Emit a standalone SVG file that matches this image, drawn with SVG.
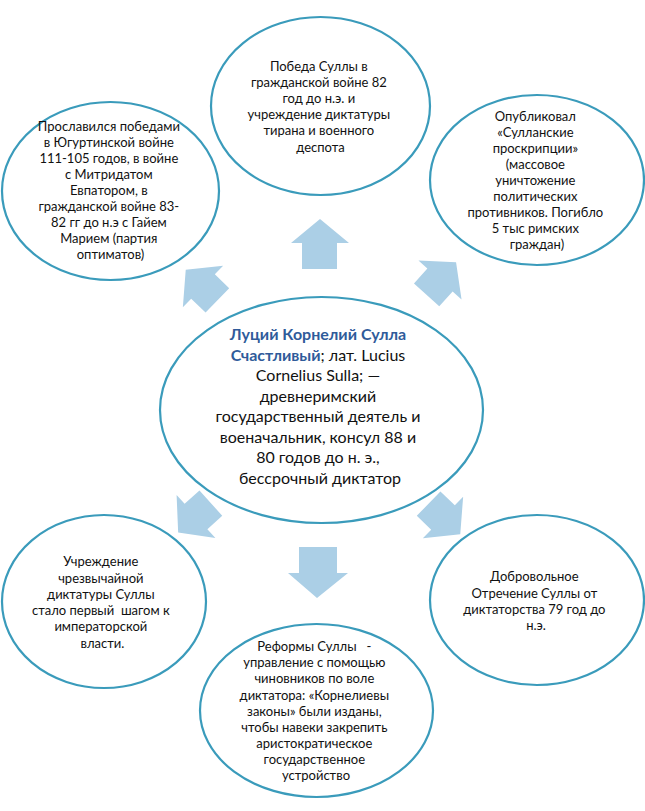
<svg xmlns="http://www.w3.org/2000/svg" width="645" height="811" viewBox="0 0 645 811">
<style>
.arrow{fill:#abcfe6;stroke:none}
.node{fill:#ffffff;stroke:#3a9bbb;stroke-width:2.2}
.t{font-family:Lato,"Liberation Sans",sans-serif;font-size:13px;fill:#111;text-anchor:middle}
.c{font-family:Lato,"Liberation Sans",sans-serif;font-size:16px;fill:#111;text-anchor:middle}
.b{font-weight:bold;fill:#2f5b9a}
</style>
<defs>
<polygon id="darr" points="0,-24 29,0 17,0 17,20 -17,20 -17,0 -29,0"/>
</defs>
<g id="connectors">
<polygon class="arrow" points="320,219 349,243 337,243 337,269 302,269 302,243 291,243"/>
<polygon class="arrow" points="299,547 337,547 337,573 348,573 317,598 288,573 299,573"/>
<use href="#darr" class="arrow" transform="translate(203,286.5) rotate(-46)"/>
<use href="#darr" class="arrow" transform="translate(440,280) rotate(42)"/>
<use href="#darr" class="arrow" transform="translate(196,516.5) rotate(-132)"/>
<use href="#darr" class="arrow" transform="translate(443,517.5) rotate(134)"/>
</g>
<g id="center">
<ellipse class="node" cx="321.5" cy="410" rx="161.5" ry="113"/>
<text class="c">
<tspan x="320" y="340" class="b">Луций Корнелий Сулла</tspan>
<tspan x="320" y="360.5"><tspan class="b">Счастливый</tspan>; лат. Lucius</tspan>
<tspan x="320" y="381">Cornelius Sulla; —</tspan>
<tspan x="320" y="401.5">древнеримский</tspan>
<tspan x="320" y="422">государственный деятель и</tspan>
<tspan x="320" y="442.5">военачальник, консул 88 и</tspan>
<tspan x="320" y="463">80 годов до н. э.,</tspan>
<tspan x="320" y="483.5">бессрочный диктатор</tspan>
</text>
</g>
<g id="top">
<ellipse class="node" cx="320.5" cy="106" rx="109.5" ry="89"/>
<text class="t">
<tspan x="320.5" y="70.5">Победа Суллы в</tspan>
<tspan x="320.5" y="86.7">гражданской войне 82</tspan>
<tspan x="320.5" y="102.9">год до н.э. и</tspan>
<tspan x="320.5" y="119.1">учреждение диктатуры</tspan>
<tspan x="320.5" y="135.3">тирана и военного</tspan>
<tspan x="320.5" y="151.5">деспота</tspan>
</text>
</g>
<g id="top-left">
<ellipse class="node" cx="110.5" cy="191" rx="108.5" ry="89"/>
<text class="t">
<tspan x="110.5" y="130.5">Прославился победами</tspan>
<tspan x="110.5" y="146.5">в Югуртинской войне</tspan>
<tspan x="110.5" y="162.5">111-105 годов, в войне</tspan>
<tspan x="110.5" y="178.5">с Митридатом</tspan>
<tspan x="110.5" y="194.5">Евпатором, в</tspan>
<tspan x="110.5" y="210.5">гражданской войне 83-</tspan>
<tspan x="110.5" y="226.5">82 гг до н.э с Гайем</tspan>
<tspan x="110.5" y="242.5">Марием (партия</tspan>
<tspan x="110.5" y="258.5">оптиматов)</tspan>
</text>
</g>
<g id="top-right">
<ellipse class="node" cx="537" cy="180" rx="107" ry="85"/>
<text class="t">
<tspan x="537" y="120.5">Опубликовал</tspan>
<tspan x="537" y="136.5">«Сулланские</tspan>
<tspan x="537" y="152.5">проскрипции»</tspan>
<tspan x="537" y="168.5">(массовое</tspan>
<tspan x="537" y="184.5">уничтожение</tspan>
<tspan x="537" y="200.5">политических</tspan>
<tspan x="537" y="216.5">противников. Погибло</tspan>
<tspan x="537" y="232.5">5 тыс римских</tspan>
<tspan x="537" y="248.5">граждан)</tspan>
</text>
</g>
<g id="bottom-left">
<ellipse class="node" cx="104" cy="601.5" rx="102" ry="86.5"/>
<text class="t">
<tspan x="102.5" y="566.2">Учреждение</tspan>
<tspan x="102.5" y="582.5">чрезвычайной</tspan>
<tspan x="102.5" y="598.8">диктатуры Суллы</tspan>
<tspan x="102.5" y="615.1">стало первый&#160; шагом к</tspan>
<tspan x="102.5" y="631.4">императорской</tspan>
<tspan x="102.5" y="647.7">власти.</tspan>
</text>
</g>
<g id="bottom-right">
<ellipse class="node" cx="537" cy="600" rx="107" ry="85"/>
<text class="t">
<tspan x="536" y="581.2">Добровольное</tspan>
<tspan x="536" y="597.5">Отречение Суллы от</tspan>
<tspan x="536" y="613.8">диктаторства 79 год до</tspan>
<tspan x="536" y="630.1">н.э.</tspan>
</text>
</g>
<g id="bottom">
<ellipse class="node" cx="316.5" cy="710.5" rx="116.5" ry="86.5"/>
<text class="t">
<tspan x="316" y="651.2">Реформы Суллы&#160;&#160; -</tspan>
<tspan x="316" y="667.3">управление с помощью</tspan>
<tspan x="316" y="683.4">чиновников по воле</tspan>
<tspan x="316" y="699.5">диктатора: «Корнелиевы</tspan>
<tspan x="316" y="715.6">законы» были изданы,</tspan>
<tspan x="316" y="731.7">чтобы навеки закрепить</tspan>
<tspan x="316" y="747.8">аристократическое</tspan>
<tspan x="316" y="763.9">государственное</tspan>
<tspan x="316" y="780">устройство</tspan>
</text>
</g>
</svg>
